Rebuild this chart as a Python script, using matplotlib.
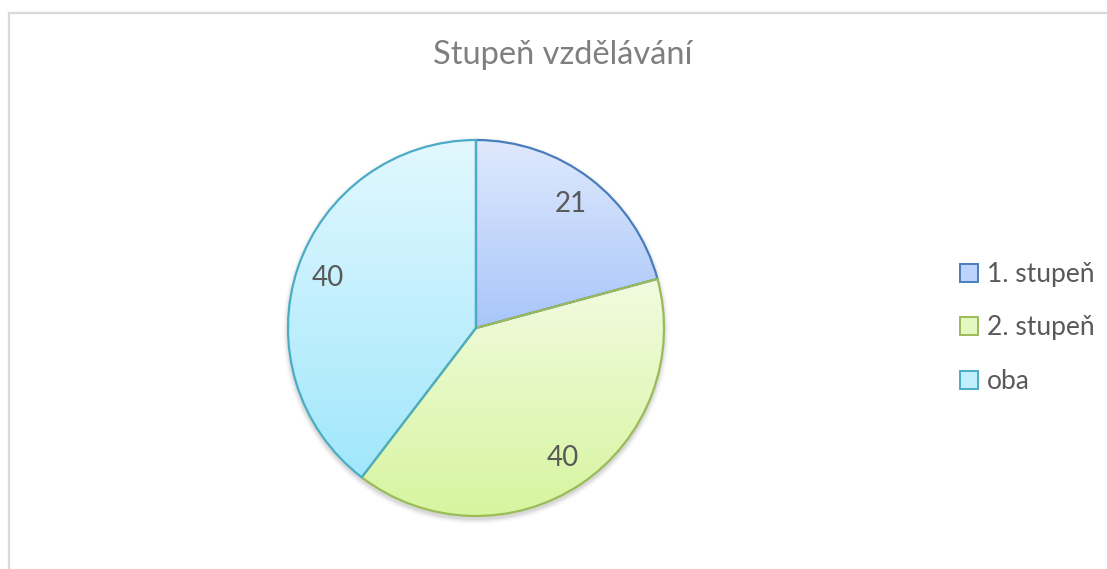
import numpy as np
import matplotlib
matplotlib.use("Agg")
import matplotlib.pyplot as plt
from matplotlib.patches import Patch, Circle
from matplotlib.colors import LinearSegmentedColormap
from matplotlib.lines import Line2D

plt.rcParams['font.family'] = ['Lato', 'DejaVu Sans']

# data
kategorie = ["1. stupeň", "2. stupeň", "oba"]
hodnoty = [21, 40, 40]
nadpis = "Stupeň vzdělávání"

# gradient colours (top, bottom) and edge colour per slice
barvy_horni = ["#dfe9fd", "#f2fbe0", "#e2f8fe"]
barvy_dolni = ["#a9c6fa", "#d6f59f", "#a1e7fc"]
barvy_okraj = ["#4a7ebb", "#9bbb59", "#4bacc6"]

W, H = 1107, 569
fig = plt.figure(figsize=(W / 100, H / 100), dpi=100)

# light frame of the chart area (left and top only visible)
fig.add_artist(Line2D([8.5 / W, 8.5 / W], [0, 1 - 12.5 / H], color="#d9d9d9", lw=1.6))
fig.add_artist(Line2D([8.5 / W, 1.0], [1 - 12.5 / H, 1 - 12.5 / H], color="#d9d9d9", lw=1.6))

fig.text(563 / W, 1 - 55 / H, nadpis, ha="center", va="center",
         fontsize=23.5, color="#7f7f7f")

cx, cy, r = 476, 328, 188
ax = fig.add_axes([(cx - r * 1.05) / W, (H - cy - r * 1.05) / H, 2.1 * r / W, 2.1 * r / H])
ax.set_aspect("equal")
ax.axis("off")

# soft shadow
for i, a in enumerate(np.linspace(0.05, 0.01, 5)):
    ax.add_patch(Circle((0.0, -0.015), 1.0 + 0.006 * (i + 1), color="black", alpha=a, lw=0, zorder=0))
ax.add_patch(Circle((0, 0), 1.0, color="white", lw=0, zorder=0.5))

wedges, _ = ax.pie(hodnoty, startangle=90, counterclock=False, radius=1.0,
                   wedgeprops=dict(linewidth=1.6), normalize=True)

celkem = sum(hodnoty)
uhel = 90.0
for i, w in enumerate(wedges):
    w.set_facecolor("none")
    w.set_edgecolor(barvy_okraj[i])
    w.set_zorder(3)
    ext = w.get_path().get_extents()
    cmap = LinearSegmentedColormap.from_list("g%d" % i, [barvy_dolni[i], barvy_horni[i]])
    grad = np.linspace(0, 1, 256).reshape(-1, 1)
    img = ax.imshow(grad, cmap=cmap, origin="lower", aspect="auto",
                    extent=[ext.x0, ext.x1, ext.y0, ext.y1], zorder=2)
    img.set_clip_path(w)
    # label
    rozsah = 360.0 * hodnoty[i] / celkem
    stred = np.deg2rad(uhel - rozsah / 2)
    uhel -= rozsah
    d = 0.83
    ax.text(d * np.cos(stred), d * np.sin(stred), str(hodnoty[i]), ha="center", va="center",
            fontsize=20, color="#595959", zorder=4)

ax.set_xlim(-1.05, 1.05)
ax.set_ylim(-1.05, 1.05)

stredni = ["#bcd3fb", "#e3f8c0", "#c2effd"]
handles = [Patch(facecolor=stredni[i], edgecolor=barvy_okraj[i], linewidth=1.4) for i in range(3)]
fig.legend(handles, kategorie, loc="center left", bbox_to_anchor=(936 / W, 1 - 328 / H),
           frameon=False, fontsize=19, labelcolor="#595959", handlelength=0.68,
           handleheight=0.68, handletextpad=0.35, labelspacing=1.08)

fig.savefig("out.png", dpi=100)
